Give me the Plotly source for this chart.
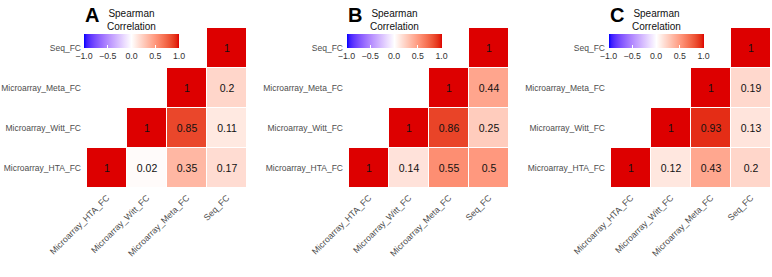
import plotly.graph_objects as go
import numpy as np

# ---------------- data ----------------
labels = ["Microarray_HTA_FC", "Microarray_Witt_FC", "Microarray_Meta_FC", "Seq_FC"]
panel_names = ["A", "B", "C"]
# pair order: HTA-Witt, HTA-Meta, HTA-Seq, Witt-Meta, Witt-Seq, Meta-Seq
corr_A = [0.02, 0.35, 0.17, 0.85, 0.11, 0.2]
corr_B = [0.14, 0.55, 0.5, 0.86, 0.25, 0.44]
corr_C = [0.12, 0.43, 0.2, 0.93, 0.13, 0.19]
colorbar_ticks = [-1.0, -0.5, 0.0, 0.5, 1.0]
colorbar_ticktext = ["\u22121.0", "\u22120.5", "0.0", "0.5", "1.0"]
colorbar_title = "Spearman<br>Correlation"

W, H = 772, 277


# ---------- colour scale (Lab interpolation, like ggplot gradient2) ----------
def srgb_to_lin(c):
    c = np.asarray(c) / 255.0
    return np.where(c <= 0.04045, c / 12.92, ((c + 0.055) / 1.055) ** 2.4)


def lin_to_srgb(c):
    c = np.clip(c, 0, 1)
    v = np.where(c <= 0.0031308, 12.92 * c, 1.055 * c ** (1 / 2.4) - 0.055)
    return np.clip(np.round(v * 255), 0, 255).astype(int)


M = np.array([[0.4124, 0.3576, 0.1805], [0.2126, 0.7152, 0.0722], [0.0193, 0.1192, 0.9505]])
Minv = np.linalg.inv(M)
WP = np.array([0.95047, 1.0, 1.08883])


def f(t):
    return np.where(t > (6 / 29) ** 3, np.cbrt(t), t / (3 * (6 / 29) ** 2) + 4 / 29)


def finv(t):
    return np.where(t > 6 / 29, t ** 3, 3 * (6 / 29) ** 2 * (t - 4 / 29))


def rgb_to_lab(rgb):
    xyz = M @ srgb_to_lin(rgb) / WP
    fx, fy, fz = f(xyz)
    return np.array([116 * fy - 16, 500 * (fx - fy), 200 * (fy - fz)])


def lab_to_rgb(lab):
    L, a, b = lab
    fy = (L + 16) / 116
    fx = fy + a / 500
    fz = fy - b / 200
    xyz = finv(np.array([fx, fy, fz])) * WP
    return lin_to_srgb(Minv @ xyz)


low, mid, high = rgb_to_lab([0, 0, 255]), rgb_to_lab([255, 255, 255]), rgb_to_lab([221, 0, 0])
colorscale = []
n = 20
for k in range(n + 1):
    t = k / n
    r, g, b = lab_to_rgb(low + (mid - low) * t)
    colorscale.append([t / 2, f"rgb({r},{g},{b})"])
for k in range(1, n + 1):
    t = k / n
    r, g, b = lab_to_rgb(mid + (high - mid) * t)
    colorscale.append([0.5 + t / 2, f"rgb({r},{g},{b})"])


def build_matrix(vals):
    pairs = [(0, 1), (0, 2), (0, 3), (1, 2), (1, 3), (2, 3)]
    lookup = {p: v for p, v in zip(pairs, vals)}
    z, txt = [], []
    for i in range(4):
        zr, tr = [], []
        for j in range(4):
            if j == i:
                zr.append(1.0); tr.append("1")
            elif j > i:
                v = lookup[(i, j)]
                zr.append(v); tr.append(f"{v:g}")
            else:
                zr.append(None); tr.append("")
        z.append(zr); txt.append(tr)
    return z, txt


fig = go.Figure()

x_left = [87, 349, 611]
cell = 40
y_top, y_bot = 28, 188
cb_center = [131.5, 394, 656]
letter_x = [83, 346, 608]

font_family = "Liberation Sans, Arial, Helvetica, sans-serif"

for k, vals in enumerate([corr_A, corr_B, corr_C]):
    z, txt = build_matrix(vals)
    sfx = "" if k == 0 else str(k + 1)
    ca = "coloraxis" + sfx
    fig.add_trace(go.Heatmap(
        z=z, x=labels, y=labels, text=txt, texttemplate="%{text}",
        textfont=dict(size=10.5, color="#111111", family=font_family),
        coloraxis=ca, xgap=1, ygap=1, hoverinfo="skip",
        xaxis="x" + sfx, yaxis="y" + sfx,
    ))
    x0 = x_left[k] / W
    x1 = (x_left[k] + 4 * cell) / W
    axis_common = dict(
        type="category", categoryorder="array", categoryarray=labels,
        showgrid=False, zeroline=False, showline=False, ticks="",
        fixedrange=True, automargin=False,
    )
    fig.layout["xaxis" + sfx] = dict(
        domain=[x0, x1], anchor="y" + sfx, tickangle=-45,
        tickfont=dict(size=8.8, color="#4D4D4D", family=font_family),
        ticklabelstandoff=2, **axis_common)
    fig.layout["yaxis" + sfx] = dict(
        domain=[1 - y_bot / H, 1 - y_top / H], anchor="x" + sfx,
        tickfont=dict(size=8.5, color="#4D4D4D", family=font_family),
        ticklabelstandoff=5, **axis_common)
    fig.layout[ca] = dict(
        cmin=-1, cmax=1, colorscale=colorscale,
        colorbar=dict(
            orientation="h", x=cb_center[k] / W, xanchor="center",
            y=1 - 34 / H, yanchor="top", len=95, lenmode="pixels",
            thickness=14, thicknessmode="pixels", outlinewidth=0,
            xpad=0, ypad=0,
            tickvals=colorbar_ticks, ticktext=colorbar_ticktext,
            ticks="inside", tickcolor="white", ticklen=3,
            tickfont=dict(size=8.8, color="#333333", family=font_family),
        ),
    )
    fig.add_annotation(
        text=colorbar_title, x=cb_center[k] / W, y=1 - 19.5 / H,
        xref="paper", yref="paper", xanchor="center", yanchor="middle",
        showarrow=False, font=dict(size=10, color="#111111", family=font_family),
    )
    fig.add_annotation(
        text=f"<b>{panel_names[k]}</b>", x=letter_x[k] / W, y=1 - 2 / H,
        xref="paper", yref="paper", xanchor="left", yanchor="top",
        showarrow=False, font=dict(size=20, color="black", family=font_family),
    )

fig.update_layout(
    width=W, height=H, margin=dict(l=0, r=0, t=0, b=0, autoexpand=False),
    paper_bgcolor="white", plot_bgcolor="white", showlegend=False,
)

fig.write_html("out.html", config={"displayModeBar": False},
               post_script="document.body.style.margin='0';document.body.style.overflow='hidden';")
